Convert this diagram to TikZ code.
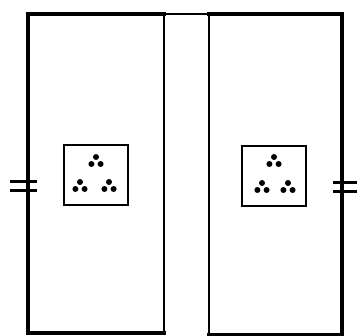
\documentclass[tikz,border=0pt]{standalone}
\usepackage{tikz}
\usetikzlibrary{positioning}

\begin{document}
\begin{tikzpicture}[x=1pt,y=-1pt,
		wall/.style={line width=3.8pt,line cap=rect},
		edge/.style={line width=2pt},
		plate/.style={draw,line width=2.8pt,minimum width=64pt,minimum height=60pt,inner sep=0pt},
		bar/.style={line width=3pt}]
	\useasboundingbox (0,0) rectangle (357,336);
	% two panels
	\draw[wall] (164,333) -- (28,333) -- (28,14) -- (164,14);
	\draw[wall] (209,14) -- (342,14) -- (342,335) -- (209,335);
	\draw[edge] (164,14) -- (209,14);
	\draw[edge] (164,14) -- (164,333);
	\draw[edge] (209,14) -- (209,335);
	% plates with dots
	\node[plate] (plateL) at (96,175) {};
	\node[plate] (plateR) at (274,176) {};
	\foreach \cx/\cy in {96/161,80/186,109/186,274/161,262/187,288/187}{
		\fill (\cx,\cy-4) circle (3pt) (\cx-4.6,\cy+3) circle (3pt) (\cx+4.6,\cy+3) circle (3pt);
	}
	% double bars
	\draw[bar] (10,182) -- (37,182) (10,191) -- (37,191);
	\draw[bar] (333,183) -- (357,183) (333,192) -- (357,192);
\end{tikzpicture}
\end{document}
